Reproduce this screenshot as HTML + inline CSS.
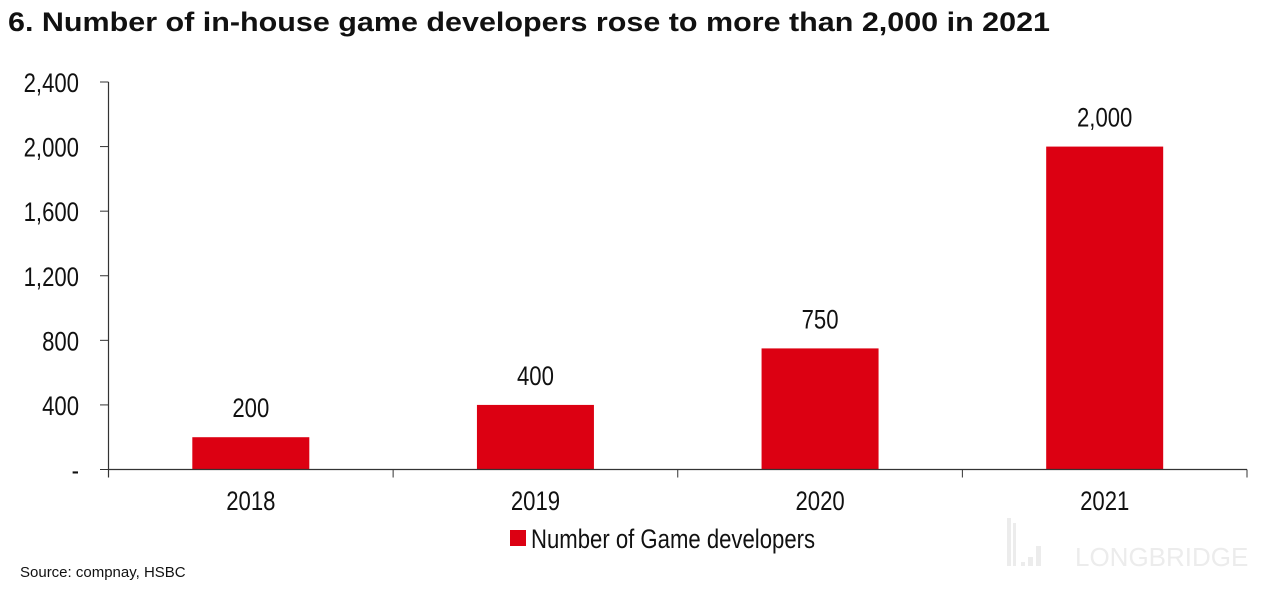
<!DOCTYPE html>
<html><head><meta charset="utf-8"><style>
body{margin:0;background:#fff;width:1269px;height:589px;overflow:hidden;font-family:"Liberation Sans",sans-serif}
</style></head><body>
<svg width="1269" height="589" xmlns="http://www.w3.org/2000/svg">
<text x="8" y="31" font-family="Liberation Sans" font-weight="bold" font-size="27" textLength="1042" lengthAdjust="spacingAndGlyphs" fill="#111">6. Number of in-house game developers rose to more than 2,000 in 2021</text>
<g id="plot"></g>
<rect x="510" y="530" width="16" height="16" fill="#dc0012"/>
<text transform="translate(531,548) scale(0.82,1)" font-size="27" fill="#111">Number of Game developers</text>
<text x="20" y="577" font-size="15" fill="#111">Source: compnay, HSBC</text>
<g fill="#ececec">
<rect x="1007" y="518" width="4" height="48"/><rect x="1013" y="523" width="3" height="43"/>
<rect x="1021" y="562" width="4" height="4"/><rect x="1028" y="557" width="5" height="9"/><rect x="1036" y="546" width="5" height="20"/>
<text x="1075" y="566" font-size="26" fill="#ececec">LONGBRIDGE</text></g>
</svg>
<script>
const categories=["2018","2019","2020","2021"];
const values=[200,400,750,2000];
const valueLabels=["200","400","750","2,000"];
const yTicks=[0,400,800,1200,1600,2000,2400];
const yTickLabels=["-","400","800","1,200","1,600","2,000","2,400"];
const NS="http://www.w3.org/2000/svg";
const g=document.getElementById('plot');
const x0=108.5,x1=1247,y0=469.5,yTop=82,ymax=2400;
const y=v=>y0-(v/ymax)*(y0-yTop);
const bw=(x1-x0)/categories.length;
const xc=i=>x0+bw*(i+0.5);
function el(tag,attrs,txt){const e=document.createElementNS(NS,tag);for(const k in attrs)e.setAttribute(k,attrs[k]);if(txt!==undefined)e.textContent=txt;g.appendChild(e);return e;}
function txt(x,yy,anchor,s){return el('text',{transform:'translate('+x+','+yy+') scale(0.82,1)','text-anchor':anchor,'font-size':27,fill:'#111'},s);}
yTicks.forEach((v,i)=>{
 const l=el('line',{x1:100,x2:x0,y1:y(v),y2:y(v),stroke:'#333','stroke-width':1});
 
 
 const t=txt(79,y(v)+10,'end',yTickLabels[i]);
 
 
});
categories.forEach((c,i)=>{
 const h=y0-y(values[i]);
 const r=el('rect',{x:xc(i)-58.5,y:y(values[i]),width:117,height:h,fill:'#dc0012'});
 
 
 const v=txt(xc(i),y(values[i])-20,'middle',valueLabels[i]);
 
 
 const t=txt(xc(i),510,'middle',c);
 
 
});
for(let i=0;i<=categories.length;i++){
 const l=el('line',{x1:x0+bw*i,x2:x0+bw*i,y1:y0,y2:y0+8,stroke:'#333','stroke-width':1});
 
 
}
const ya=el('line',{x1:x0,x2:x0,y1:yTop,y2:y0+8,stroke:'#333','stroke-width':1.2});


const xa=el('line',{x1:x0,x2:x1,y1:y0,y2:y0,stroke:'#333','stroke-width':1.2});


</script>
</body></html>
